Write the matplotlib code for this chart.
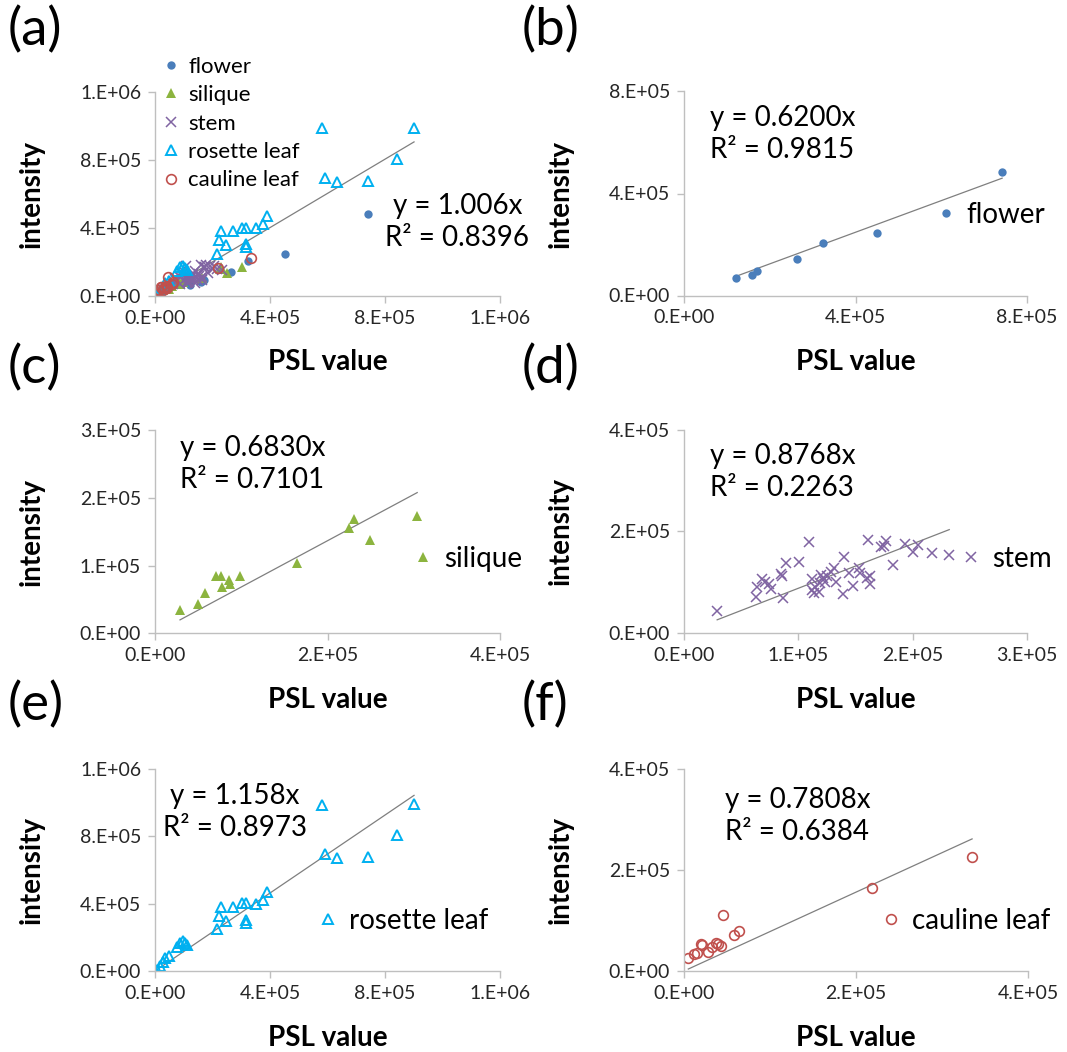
import matplotlib
matplotlib.use("Agg")
import matplotlib.pyplot as plt

plt.rcParams['font.family'] = ['Lato', 'DejaVu Sans']

# data (PSL value, intensity)
flower_x = [1.22e5, 1.59e5, 1.71e5, 2.64e5, 3.25e5, 4.51e5, 7.42e5]
flower_y = [0.67e5, 0.82e5, 0.95e5, 1.42e5, 2.05e5, 2.47e5, 4.85e5]

silique_x = [0.29e5, 0.50e5, 0.58e5, 0.71e5, 0.77e5, 0.78e5, 0.86e5, 0.87e5, 0.98e5,
             1.65e5, 2.25e5, 2.31e5, 2.49e5, 3.04e5]
silique_y = [0.345e5, 0.43e5, 0.60e5, 0.85e5, 0.84e5, 0.68e5, 0.78e5, 0.73e5, 0.85e5,
             1.04e5, 1.56e5, 1.68e5, 1.37e5, 1.73e5]

stem_x = [0.29e5, 0.63e5, 0.64e5, 0.68e5, 0.71e5, 0.74e5, 0.76e5, 0.85e5, 0.86e5, 0.87e5,
          0.89e5, 1.01e5, 1.09e5, 1.12e5, 1.12e5, 1.14e5, 1.15e5, 1.18e5, 1.19e5, 1.20e5,
          1.22e5, 1.23e5, 1.25e5, 1.29e5, 1.31e5, 1.33e5, 1.39e5, 1.40e5, 1.44e5, 1.48e5,
          1.53e5, 1.54e5, 1.60e5, 1.61e5, 1.63e5, 1.63e5, 1.72e5, 1.75e5, 1.77e5, 1.83e5,
          1.93e5, 2.00e5, 2.05e5, 2.17e5, 2.32e5]
stem_y = [0.43e5, 0.71e5, 0.91e5, 1.06e5, 1.00e5, 0.96e5, 0.86e5, 1.16e5, 1.12e5, 0.68e5,
          1.37e5, 1.39e5, 1.79e5, 1.06e5, 0.84e5, 0.78e5, 0.91e5, 0.81e5, 0.98e5, 1.14e5,
          1.08e5, 1.01e5, 1.11e5, 1.19e5, 1.27e5, 1.01e5, 0.76e5, 1.50e5, 1.17e5, 0.92e5,
          1.27e5, 1.17e5, 1.08e5, 1.83e5, 1.11e5, 0.96e5, 1.69e5, 1.72e5, 1.80e5, 1.33e5,
          1.75e5, 1.60e5, 1.74e5, 1.58e5, 1.53e5]

rosette_x = [0.0, 0.01e5, 0.06e5, 0.17e5, 0.29e5, 0.35e5, 0.47e5, 0.76e5, 0.87e5, 0.99e5,
             1.05e5, 1.11e5, 2.16e5, 2.22e5, 2.31e5, 2.46e5, 2.72e5, 3.03e5, 3.15e5, 3.16e5,
             3.16e5, 3.50e5, 3.74e5, 3.88e5, 5.80e5, 5.91e5, 6.33e5, 7.41e5, 8.43e5, 9.01e5]
rosette_y = [0.0, 0.01e5, 0.06e5, 0.30e5, 0.55e5, 0.75e5, 0.89e5, 1.45e5, 1.68e5, 1.78e5,
             1.64e5, 1.54e5, 2.50e5, 3.29e5, 3.82e5, 2.99e5, 3.82e5, 4.02e5, 4.02e5, 3.03e5,
             2.87e5, 3.98e5, 4.22e5, 4.71e5, 9.86e5, 6.95e5, 6.73e5, 6.79e5, 8.08e5, 9.90e5]

cauline_x = [0.05e5, 0.12e5, 0.15e5, 0.20e5, 0.21e5, 0.28e5, 0.32e5, 0.37e5, 0.40e5, 0.43e5,
             0.45e5, 0.58e5, 0.64e5, 2.19e5, 3.35e5]
cauline_y = [0.26e5, 0.34e5, 0.36e5, 0.54e5, 0.51e5, 0.37e5, 0.48e5, 0.56e5, 0.53e5, 0.50e5,
             1.11e5, 0.71e5, 0.80e5, 1.64e5, 2.26e5]

slopes = {"all": 1.006, "flower": 0.6200, "silique": 0.6830, "stem": 0.8768,
          "rosette leaf": 1.158, "cauline leaf": 0.7808}
r2 = {"all": "0.8396", "flower": "0.9815", "silique": "0.7101", "stem": "0.2263",
      "rosette leaf": "0.8973", "cauline leaf": "0.6384"}

styles = {
    "flower": dict(marker='o', color='#4A7EBB', ms=6, mfc='#4A7EBB', mew=0),
    "silique": dict(marker='^', color='#8CB43F', ms=7, mfc='#8CB43F', mew=0),
    "stem": dict(marker='x', color='#8064A2', ms=6.5, mew=1.1),
    "rosette leaf": dict(marker='^', color='#00B0F0', ms=7, mfc='none', mew=1.4),
    "cauline leaf": dict(marker='o', color='#C0504D', ms=7, mfc='none', mew=1.2),
}
series = {
    "flower": (flower_x, flower_y),
    "silique": (silique_x, silique_y),
    "stem": (stem_x, stem_y),
    "rosette leaf": (rosette_x, rosette_y),
    "cauline leaf": (cauline_x, cauline_y),
}

W, H = 1067, 1052
fig = plt.figure(figsize=(W / 100, H / 100), dpi=100)


def make_ax(left, right, bottom, top):
    return fig.add_axes([left / W, 1 - bottom / H, (right - left) / W, (bottom - top) / H])


def style_ax(ax, xt, xl, yt, yl, xmax, ymax):
    ax.set_xlim(0, xmax)
    ax.set_ylim(0, ymax)
    ax.set_xticks(xt)
    ax.set_xticklabels(xl)
    ax.set_yticks(yt)
    ax.set_yticklabels(yl)
    for s in ['top', 'right']:
        ax.spines[s].set_visible(False)
    for s in ['left', 'bottom']:
        ax.spines[s].set_color('#BFBFBF')
        ax.spines[s].set_linewidth(1)
    ax.tick_params(length=5, width=1, color='#BFBFBF', labelsize=14,
                   labelcolor='#262626', pad=5)
    for lab in ax.get_xticklabels() + ax.get_yticklabels():
        lab.set_clip_on(False)
    ax.patch.set_alpha(0)


def labels(ax, ylab_x, xlab_top, bottom, top, left, right):
    ax.set_xlabel("PSL value", fontsize=20, fontweight='bold', va='top')
    ax.set_ylabel("intensity", fontsize=20, fontweight='bold', va='center')
    ax.xaxis.set_label_coords((left + right) / 2 / W, 1 - xlab_top / H, transform=fig.transFigure)
    ax.yaxis.set_label_coords(ylab_x / W, 1 - (bottom + top) / 2 / H, transform=fig.transFigure)


def trend(ax, xs, k):
    lo, hi = min(xs), max(xs)
    ax.plot([lo, hi], [k * lo, k * hi], color='#7F7F7F', lw=0.9, zorder=1)


def single_legend(ax, mx, my):
    ax.legend(loc='center left', bbox_to_anchor=((mx - 8.5) / W, 1 - my / H),
              bbox_transform=fig.transFigure, frameon=False, fontsize=20,
              handlelength=0.6, handletextpad=0.45, borderpad=0, borderaxespad=0)


# (a) all tissues
ax = make_ax(155, 500, 296, 92)
for name, (xs, ys) in series.items():
    ax.plot(xs, ys, ls='none', label=name, **styles[name])
all_x = flower_x + silique_x + stem_x + rosette_x + cauline_x
trend(ax, all_x, slopes["all"])
style_ax(ax, [0, 4e5, 8e5, 1.2e6], ["0.E+00", "4.E+05", "8.E+05", "1.E+06"],
         [0, 4e5, 8e5, 1.2e6], ["0.E+00", "4.E+05", "8.E+05", "1.E+06"], 1.2e6, 1.2e6)
labels(ax, 32, 349, 296, 92, 155, 500)
ax.text((457.5 - 155) / 345, (296 - 222) / 204, "y = 1.006x\nR² = 0.8396", transform=ax.transAxes,
        ha='center', va='center', fontsize=20, linespacing=1.3)
ax.legend(loc='center left', bbox_to_anchor=(164 / W, 1 - 123.5 / H), bbox_transform=fig.transFigure,
          frameon=False, fontsize=16, handlelength=0.6, handletextpad=0.5, labelspacing=0.38,
          borderpad=0, borderaxespad=0)


def panel(name, box, xt, xl, xmax, yt, yl, ymax, eq_pos, eq_ha, leg_pos, ylab_x):
    left, right, bottom, top = box
    ax = make_ax(left, right, bottom, top)
    xs, ys = series[name]
    ax.plot(xs, ys, ls='none', label=name, **styles[name])
    trend(ax, xs, slopes[name])
    style_ax(ax, xt, xl, yt, yl, xmax, ymax)
    labels(ax, ylab_x, bottom + 54, bottom, top, left, right)
    txt = "y = %sx\nR² = %s" % (("%.4f" % slopes[name]) if slopes[name] < 1 else ("%.3f" % slopes[name]), r2[name])
    fig.text(eq_pos[0] / W, 1 - eq_pos[1] / H, txt, ha=eq_ha, va='center', fontsize=20,
             linespacing=1.3, multialignment='center' if eq_ha == 'center' else 'left')
    single_legend(ax, *leg_pos)


panel("flower", (684, 1027, 295.5, 91.5), [0, 4e5, 8e5], ["0.E+00", "4.E+05", "8.E+05"], 8e5,
      [0, 4e5, 8e5], ["0.E+00", "4.E+05", "8.E+05"], 8e5, (710, 134), 'left', (946, 215), 561)
panel("silique", (155, 500, 633.3, 430), [0, 2e5, 4e5], ["0.E+00", "2.E+05", "4.E+05"], 4e5,
      [0, 1e5, 2e5, 3e5], ["0.E+00", "1.E+05", "2.E+05", "3.E+05"], 3e5, (180, 464), 'left',
      (423, 559), 32)
panel("stem", (684, 1027, 632.7, 430), [0, 1e5, 2e5, 3e5], ["0.E+00", "1.E+05", "2.E+05", "3.E+05"], 3e5,
      [0, 2e5, 4e5], ["0.E+00", "2.E+05", "4.E+05"], 4e5, (710, 472), 'left', (971, 559), 561)
panel("rosette leaf", (155, 500, 971, 769), [0, 4e5, 8e5, 1.2e6], ["0.E+00", "4.E+05", "8.E+05", "1.E+06"],
      1.2e6, [0, 4e5, 8e5, 1.2e6], ["0.E+00", "4.E+05", "8.E+05", "1.E+06"], 1.2e6, (235, 812), 'center',
      (328, 921), 32)
panel("cauline leaf", (684, 1028, 971, 769), [0, 2e5, 4e5], ["0.E+00", "2.E+05", "4.E+05"], 4e5,
      [0, 2e5, 4e5], ["0.E+00", "2.E+05", "4.E+05"], 4e5, (725, 816), 'left', (891, 921), 561)

for lab, (x, y) in zip("abcdef", [(8, 6), (522, 6), (8, 344), (522, 344), (8, 681), (522, 681)]):
    fig.text(x / W, 1 - y / H, "(%s)" % lab, fontsize=38, ha='left', va='top')

fig.savefig("out.png", dpi=100)
